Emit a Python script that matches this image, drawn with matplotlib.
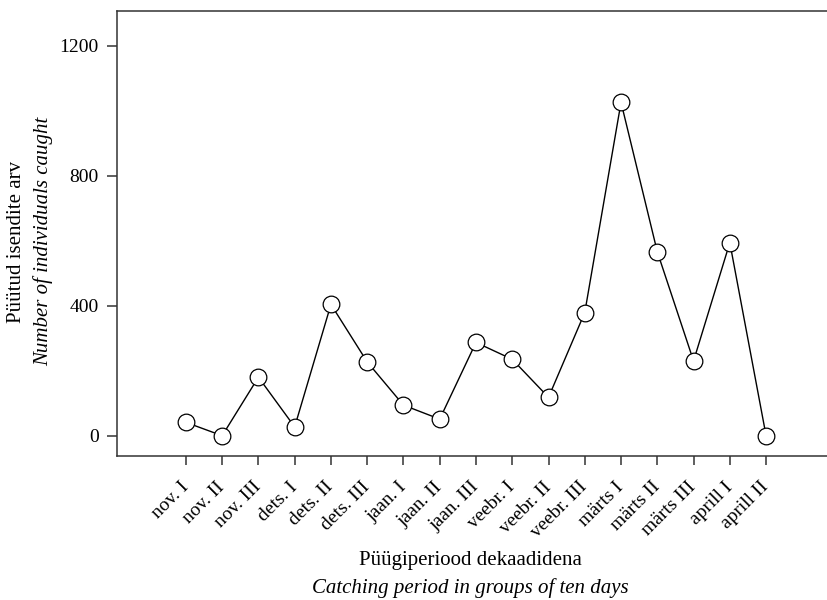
import matplotlib
matplotlib.use("Agg")
import matplotlib.pyplot as plt

categories = ["nov. I", "nov. II", "nov. III", "dets. I", "dets. II", "dets. III",
              "jaan. I", "jaan. II", "jaan. III", "veebr. I", "veebr. II", "veebr. III",
              "märts I", "märts II", "märts III", "aprill I", "aprill II"]
values = [41, 0, 180, 27, 404, 227, 94, 51, 287, 235, 118, 379, 1026, 566, 230, 594, 0]
yticks = [0, 400, 800, 1200]

plt.rcParams['font.family'] = ['Liberation Serif', 'DejaVu Serif']

fig = plt.figure(figsize=(8.27, 6.0), dpi=100)
ax = fig.add_axes([117/827, 1 - 456/600, 1 - 117/827, (456 - 11)/600])

x = list(range(len(categories)))
ax.plot(x, values, color='black', lw=1.0, marker='o', markersize=12,
        markerfacecolor='white', markeredgecolor='black', markeredgewidth=0.9, zorder=3,
        clip_on=False)

ax.set_xlim(-1.9, 17.68)
ax.set_ylim(-62.5, 1307)
ax.set_yticks(yticks)
ax.set_xticks(x)
ax.set_xticklabels(categories, rotation=45, ha='right', va='center', rotation_mode='anchor')
ax.tick_params(axis='both', direction='out', length=7, width=1.1, color='#333333',
               labelsize=14, pad=6)
ax.tick_params(axis='x', length=6.5, pad=14)
for s in ['left', 'top', 'bottom']:
    ax.spines[s].set_color('#333333')
    ax.spines[s].set_linewidth(1.1)
ax.spines['right'].set_visible(False)

# y label (two lines)
fig.text(17/827, 1 - 242/600, "Püütud isendite arv", rotation=90, ha='center', va='center', fontsize=15)
fig.text(43/827, 1 - 241/600, "Number of individuals caught", rotation=90, ha='center', va='center',
         fontsize=15, style='italic')
# x label (two lines)
fig.text(470/827, 1 - 561/600, "Püügiperiood dekaadidena", ha='center', va='center', fontsize=15)
fig.text(470/827, 1 - 588/600, "Catching period in groups of ten days", ha='center', va='center',
         fontsize=15, style='italic')

fig.savefig("out.png", dpi=100)
